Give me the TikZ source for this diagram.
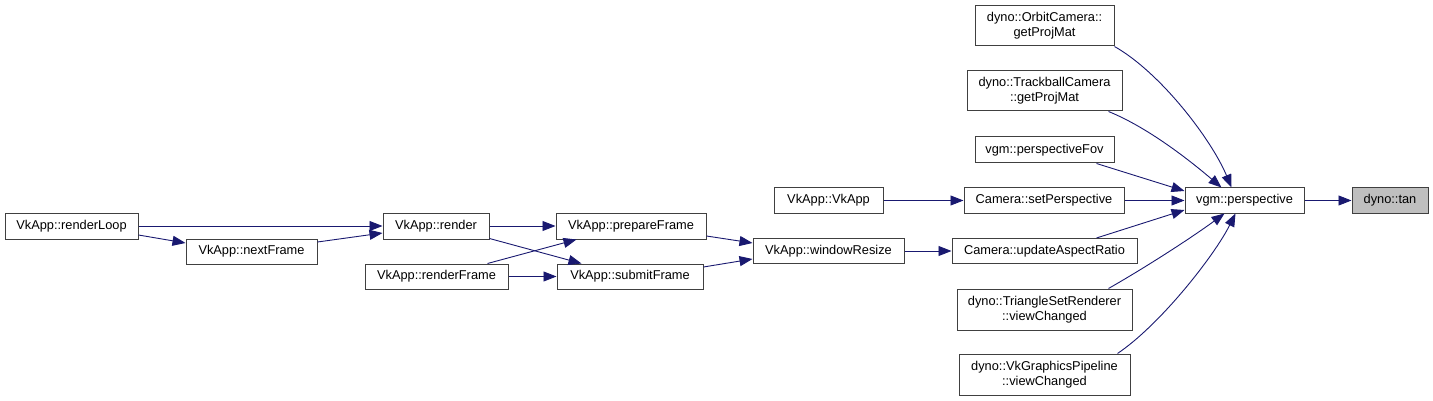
\documentclass[tikz,border=0pt]{standalone}
\usepackage{fontspec}
\setmainfont{Liberation Sans}
\usetikzlibrary{arrows.meta}
\definecolor{edgec}{HTML}{191970}
\definecolor{boxc}{HTML}{404040}
\definecolor{tanfill}{HTML}{BFBFBF}
\tikzset{
  fn/.style={draw=boxc, line width=1pt, fill=white, inner sep=0pt, align=center,
    font=\fontsize{12.8}{15}\selectfont, text=black},
  cur/.style={fn, fill=tanfill},
  calls/.style={draw=edgec, line width=0.9pt, -{Triangle[length=13pt,width=10pt]}},
}
\begin{document}
\begin{tikzpicture}[x=1pt,y=-1pt]
\useasboundingbox (0,0) rectangle (1433,401);
% nodes
\node[fn, minimum width=139pt, minimum height=40pt] (oc) at (1044.5,26) {dyno::OrbitCamera::\\getProjMat};
\node[fn, minimum width=155pt, minimum height=40pt] (tb) at (1044.5,91) {dyno::TrackballCamera\\::getProjMat};
\node[fn, minimum width=139pt, minimum height=26pt] (pf) at (1044.5,150) {vgm::perspectiveFov};
\node[fn, minimum width=160pt, minimum height=25pt] (sp) at (1044,200.5) {Camera::setPerspective};
\node[fn, minimum width=119pt, minimum height=25pt] (persp) at (1244.5,200.5) {vgm::perspective};
\node[cur, minimum width=76pt, minimum height=25pt] (tan) at (1390,200.5) {dyno::tan};
\node[fn, minimum width=185pt, minimum height=25pt] (uar) at (1044.5,251) {Camera::updateAspectRatio};
\node[fn, minimum width=175pt, minimum height=41pt] (tsr) at (1044.5,309.5) {dyno::TriangleSetRenderer\\::viewChanged};
\node[fn, minimum width=171pt, minimum height=41pt] (vgp) at (1044.5,374.5) {dyno::VkGraphicsPipeline\\::viewChanged};
\node[fn, minimum width=109pt, minimum height=25pt] (vkapp) at (828.5,200.5) {VkApp::VkApp};
\node[fn, minimum width=151pt, minimum height=25pt] (wr) at (828.5,251) {VkApp::windowResize};
\node[fn, minimum width=150pt, minimum height=26pt] (prep) at (631,226) {VkApp::prepareFrame};
\node[fn, minimum width=146pt, minimum height=25pt] (sub) at (630,276.5) {VkApp::submitFrame};
\node[fn, minimum width=106pt, minimum height=26pt] (render) at (436,226) {VkApp::render};
\node[fn, minimum width=143pt, minimum height=25pt] (rf) at (436.5,276.5) {VkApp::renderFrame};
\node[fn, minimum width=133pt, minimum height=26pt] (rl) at (71.5,226) {VkApp::renderLoop};
\node[fn, minimum width=131pt, minimum height=25pt] (nf) at (251.5,251.5) {VkApp::nextFrame};
% edges
\draw[calls] (rl.east) -- (render.west);
\draw[calls] ([yshift=-9pt]rl.east) -- ([yshift=8.5pt]nf.west);
\draw[calls] ([yshift=9.5pt]nf.east) -- ([yshift=-7pt]render.west);
\draw[calls] (render.east) -- (prep.west);
\draw[calls] ([yshift=1pt]render.south east) -- ([xshift=25pt]sub.north west);
\draw[calls] ([xshift=-21pt]rf.north east) -- ([xshift=21pt]prep.south west);
\draw[calls] (rf.east) -- (sub.west);
\draw[calls] ([yshift=-10pt]prep.east) -- ([yshift=8pt]wr.west);
\draw[calls] ([yshift=9.5pt]sub.east) -- ([yshift=-8pt]wr.west);
\draw[calls] (wr.east) -- (uar.west);
\draw[calls] (vkapp.east) -- (sp.west);
\draw[calls] (sp.east) -- (persp.west);
\draw[calls] (persp.east) -- (tan.west);
\draw[calls] (oc.south east) .. controls +(46,26) and +(-20,-48) .. ([xshift=47pt]persp.north west);
\draw[calls] ([xshift=-14pt]tb.south east) .. controls +(42,17) and +(-27,-23) .. ([xshift=37pt]persp.north west);
\draw[calls] ([xshift=-18pt]pf.south east) -- ([yshift=9.5pt]persp.west);
\draw[calls] ([xshift=-41pt]uar.north east) -- ([yshift=-9.5pt]persp.west);
\draw[calls] ([xshift=-24pt]tsr.north east) .. controls +(42,-24) and +(-30,22) .. ([xshift=40pt]persp.south west);
\draw[calls] ([xshift=-13pt]vgp.north east) .. controls +(43,-29) and +(-21,42) .. ([xshift=51pt]persp.south west);
\end{tikzpicture}
\end{document}
